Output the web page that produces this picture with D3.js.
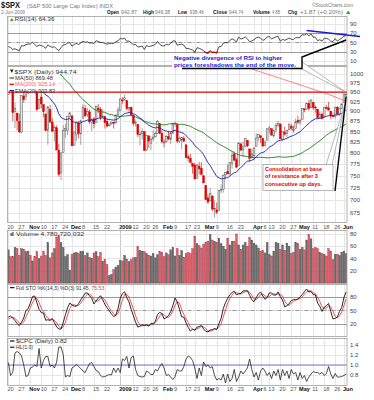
<!DOCTYPE html>
<html lang="en">
<head>
<meta charset="UTF-8">
<title>$SPX daily</title>
<script src="https://d3js.org/d3.v7.min.js"></script>
<style>
  body { margin: 0; background: #fff; }
  svg { display: block; font-family: "Liberation Sans", Arial, sans-serif; }
</style>
</head>
<body>
<svg width="374" height="400"></svg>
<script>
// trading days, Sep 2 2008 .. Jun 2 2009 (Sep/Oct 17 only used to warm up the indicators)
const dates = [
  "2008-09-02","2008-09-03","2008-09-04","2008-09-05","2008-09-08","2008-09-09","2008-09-10","2008-09-11","2008-09-12",
  "2008-09-15","2008-09-16","2008-09-17","2008-09-18","2008-09-19","2008-09-22","2008-09-23","2008-09-24","2008-09-25",
  "2008-09-26","2008-09-29","2008-09-30",
  "2008-10-01","2008-10-02","2008-10-03","2008-10-06","2008-10-07","2008-10-08","2008-10-09","2008-10-10","2008-10-13",
  "2008-10-14","2008-10-15","2008-10-16","2008-10-17",
  "2008-10-20","2008-10-21","2008-10-22","2008-10-23","2008-10-24","2008-10-27","2008-10-28","2008-10-29","2008-10-30","2008-10-31",
  "2008-11-03","2008-11-04","2008-11-05","2008-11-06","2008-11-07","2008-11-10","2008-11-11","2008-11-12","2008-11-13","2008-11-14",
  "2008-11-17","2008-11-18","2008-11-19","2008-11-20","2008-11-21","2008-11-24","2008-11-25","2008-11-26","2008-11-28",
  "2008-12-01","2008-12-02","2008-12-03","2008-12-04","2008-12-05","2008-12-08","2008-12-09","2008-12-10","2008-12-11","2008-12-12",
  "2008-12-15","2008-12-16","2008-12-17","2008-12-18","2008-12-19","2008-12-22","2008-12-23","2008-12-24","2008-12-26","2008-12-29",
  "2008-12-30","2008-12-31",
  "2009-01-02","2009-01-05","2009-01-06","2009-01-07","2009-01-08","2009-01-09","2009-01-12","2009-01-13","2009-01-14","2009-01-15",
  "2009-01-16","2009-01-20","2009-01-21","2009-01-22","2009-01-23","2009-01-26","2009-01-27","2009-01-28","2009-01-29","2009-01-30",
  "2009-02-02","2009-02-03","2009-02-04","2009-02-05","2009-02-06","2009-02-09","2009-02-10","2009-02-11","2009-02-12","2009-02-13",
  "2009-02-17","2009-02-18","2009-02-19","2009-02-20","2009-02-23","2009-02-24","2009-02-25","2009-02-26","2009-02-27",
  "2009-03-02","2009-03-03","2009-03-04","2009-03-05","2009-03-06","2009-03-09","2009-03-10","2009-03-11","2009-03-12","2009-03-13",
  "2009-03-16","2009-03-17","2009-03-18","2009-03-19","2009-03-20","2009-03-23","2009-03-24","2009-03-25","2009-03-26","2009-03-27",
  "2009-03-30","2009-03-31",
  "2009-04-01","2009-04-02","2009-04-03","2009-04-06","2009-04-07","2009-04-08","2009-04-09","2009-04-13","2009-04-14","2009-04-15",
  "2009-04-16","2009-04-17","2009-04-20","2009-04-21","2009-04-22","2009-04-23","2009-04-24","2009-04-27","2009-04-28","2009-04-29",
  "2009-04-30",
  "2009-05-01","2009-05-04","2009-05-05","2009-05-06","2009-05-07","2009-05-08","2009-05-11","2009-05-12","2009-05-13","2009-05-14",
  "2009-05-15","2009-05-18","2009-05-19","2009-05-20","2009-05-21","2009-05-22","2009-05-26","2009-05-27","2009-05-28","2009-05-29",
  "2009-06-01","2009-06-02"
];

const open = [
  1287.8,1276.6,1271.8,1233.2,1249.5,1267.0,1227.5,1229.0,1245.9,1250.9,1188.3,1210.3,1157.1,1213.1,1255.4,1207.6,1188.8,1187.9,
  1204.5,1209.1,1113.8,1164.2,1160.6,1115.2,1097.6,1057.6,988.9,988.4,902.3,912.8,1010.0,994.6,909.5,942.3,
  943.5,980.4,951.7,899.1,895.2,874.3,848.9,939.5,939.4,953.1,
  968.7,971.3,1001.8,952.4,907.4,936.8,917.2,893.4,853.1,904.4,873.2,852.3,859.0,805.9,755.8,801.2,853.4,852.9,886.9,
  888.6,817.9,843.6,869.8,844.4,882.7,906.5,892.2,898.4,871.8,881.1,871.5,908.2,905.0,887.0,887.2,874.3,863.9,869.5,872.4,870.6,890.6,
  903.0,929.2,931.2,927.5,905.7,909.9,890.4,869.8,867.3,842.0,844.5,849.6,806.8,839.7,822.2,832.5,837.3,845.7,868.9,845.7,
  823.1,825.7,837.8,831.8,846.1,868.2,866.9,827.4,829.9,834.0,818.6,791.1,787.9,775.9,773.2,744.7,770.6,765.8,749.9,
  729.6,704.4,698.6,708.3,684.0,680.8,679.3,719.6,720.9,752.0,758.8,753.9,776.0,797.9,784.6,772.3,820.6,806.8,814.1,828.7,809.1,790.9,
  793.6,814.5,835.1,839.8,834.1,816.8,829.3,855.7,856.8,839.4,854.5,865.2,868.3,831.3,847.3,844.6,853.9,862.8,854.5,856.9,876.6,
  872.7,879.2,906.1,904.0,919.6,909.0,923.0,910.5,905.4,884.2,892.8,886.1,909.7,908.6,900.4,888.7,887.0,910.0,893.0,907.0,
  923.3,942.87
];
const high = [
  1303.0,1280.6,1272.0,1244.9,1274.4,1268.7,1243.9,1249.9,1255.1,1250.9,1214.8,1210.3,1211.1,1265.1,1255.4,1214.0,1197.4,1220.0,
  1215.8,1209.1,1168.0,1167.0,1160.6,1153.8,1097.6,1072.9,1021.1,1005.3,936.4,1006.9,1044.3,994.6,947.7,984.6,
  985.4,985.4,951.7,922.8,896.3,893.8,940.5,969.9,963.2,984.4,
  975.5,1007.5,1001.8,952.4,931.5,951.2,917.2,893.4,913.0,916.9,882.3,865.9,864.6,820.5,801.2,865.6,868.9,887.7,896.3,
  888.6,850.5,873.1,875.6,879.4,918.6,916.3,908.3,904.6,883.2,884.6,914.7,918.9,911.0,905.5,887.4,880.4,869.8,873.7,873.7,891.1,910.3,
  934.7,936.6,943.9,927.5,910.0,911.9,890.4,877.0,867.3,851.6,858.1,849.6,841.7,839.7,838.6,852.5,850.5,877.9,868.9,851.7,
  830.8,842.6,851.9,850.6,870.8,875.0,868.1,838.2,835.5,839.4,818.6,796.2,797.6,778.7,777.9,775.5,780.1,779.4,751.3,
  729.6,711.7,724.1,708.3,699.1,695.3,719.6,731.9,752.6,758.3,774.5,778.1,803.0,803.2,788.9,823.4,823.7,826.3,833.0,828.7,809.1,810.5,
  813.6,845.6,842.5,839.8,834.1,828.4,856.9,864.3,856.8,852.9,870.4,875.6,868.3,850.1,861.8,852.9,871.8,868.8,864.5,882.1,888.7,
  880.5,907.9,907.7,920.3,929.6,930.2,923.0,915.6,905.4,898.4,897.0,910.0,916.4,924.6,900.4,896.7,911.8,913.8,909.5,920.0,
  947.8,949.4
];
const low = [
  1272.2,1265.6,1232.8,1217.2,1247.1,1224.5,1221.6,1211.5,1233.8,1192.7,1169.3,1155.9,1133.5,1213.1,1205.6,1187.8,1179.8,1187.9,
  1187.5,1106.4,1113.8,1140.8,1111.4,1098.1,1007.6,996.2,971.0,909.2,839.8,912.8,972.1,904.0,865.8,918.7,
  943.5,952.5,875.8,858.4,852.9,846.8,845.3,922.3,928.5,944.6,
  958.6,971.3,949.9,899.7,906.5,907.4,884.9,850.5,818.7,869.9,849.0,826.8,806.2,747.8,741.0,801.2,835.0,841.4,881.2,
  815.7,817.9,827.6,833.6,818.4,882.7,885.4,885.5,868.7,851.4,857.7,871.5,895.9,877.4,883.0,857.1,860.4,861.4,866.5,857.1,870.6,889.1,
  899.4,919.5,927.3,902.4,896.8,888.3,864.3,862.0,836.9,817.0,830.7,804.5,804.3,811.3,806.1,827.7,835.4,845.7,844.2,821.7,
  812.9,822.0,829.2,819.9,845.1,861.7,823.0,822.7,808.1,825.2,789.2,780.4,777.0,754.3,742.4,744.7,752.9,751.8,734.5,
  699.7,692.3,698.6,677.9,666.8,672.9,679.3,713.9,714.8,742.5,753.4,749.9,765.6,781.8,766.2,772.3,805.5,791.4,814.1,813.4,779.8,790.9,
  783.3,814.5,826.7,822.8,814.5,814.8,829.3,845.4,840.3,835.6,847.0,860.9,832.4,826.8,840.6,835.6,853.9,854.7,847.1,856.9,868.5,
  866.1,879.2,897.3,904.0,901.4,909.0,903.7,896.5,882.2,882.5,878.9,886.1,905.2,901.4,879.6,883.8,881.5,891.9,887.6,903.6,
  923.3,938.5
];
const close = [
  1277.58,1274.98,1236.83,1242.31,1267.79,1224.51,1232.04,1249.05,1251.70,1192.70,1213.60,1156.39,1206.51,1255.08,1207.09,1188.22,
  1185.87,1209.18,1213.27,1106.39,1166.36,1161.06,1114.28,1099.23,1056.89,996.23,984.94,909.92,899.22,1003.35,998.01,907.84,946.43,940.55,
  985.40,955.05,896.78,908.11,876.77,848.92,940.51,930.09,954.09,968.75,
  966.30,1005.75,952.77,904.88,930.99,919.21,898.95,852.30,911.29,873.29,850.75,859.12,806.58,752.44,800.03,851.81,857.39,887.68,896.24,
  816.21,848.81,870.74,845.22,876.07,909.70,888.67,899.24,873.59,879.73,868.57,913.18,904.42,885.28,887.88,871.63,863.16,868.15,872.80,
  869.42,890.64,903.25,
  931.80,927.45,934.70,906.65,909.73,890.35,870.26,871.79,842.62,843.74,850.12,805.22,840.24,827.50,831.95,836.57,845.71,874.09,845.14,825.88,
  825.44,838.51,832.23,845.85,868.60,869.89,827.16,833.74,835.19,826.84,789.17,788.42,778.94,770.05,743.33,773.14,764.90,752.83,735.09,
  700.82,696.33,712.87,682.55,683.38,676.53,719.60,721.36,750.74,756.55,753.89,778.12,794.35,784.04,768.54,822.92,806.12,813.88,832.86,
  815.94,787.53,797.87,
  811.08,834.38,842.50,835.48,815.55,825.16,856.56,858.73,841.50,852.06,865.30,869.60,832.39,850.08,843.55,851.92,866.23,857.51,855.16,
  873.64,872.81,
  877.52,907.24,903.80,919.53,907.39,929.23,909.24,908.35,883.92,893.07,882.88,909.71,908.13,903.47,888.33,887.00,910.33,893.06,906.83,919.14,
  942.87,944.74
];

// volume in 100 millions, Oct 20 2008 .. Jun 2 2009
const volume = [
  54,43,43,58,56,45,56,55,51,52,
  45,36,43,51,40,44,52,45,66,41,49,56,75,77,66,58,43,46,21,
  47,49,50,48,51,52,45,49,42,40,49,51,43,50,35,38,30,12,14,22,26,29,
  37,36,45,39,35,38,41,42,59,53,52,51,48,45,44,48,41,46,51,50,
  43,49,46,54,58,44,56,45,53,42,48,50,48,56,76,64,61,57,63,
  66,68,79,70,68,66,73,64,60,55,73,62,68,68,80,62,55,62,66,60,74,70,
  65,62,57,52,53,49,66,46,44,52,66,65,55,62,53,65,60,48,50,66,64,
  55,58,54,70,79,72,56,58,56,50,48,47,44,56,52,38,47,47,45,50,
  52,47.8
];

// CBOE put/call ratio, Oct 20 2008 .. Jun 2 2009
const cpc = [
  1.05,0.79,0.85,1.24,1.27,1.24,1.18,1.00,0.77,0.79,
  0.94,0.96,1.00,0.97,1.33,0.94,1.09,1.17,1.17,0.97,
  1.00,0.94,1.06,1.36,1.36,1.21,0.76,0.79,0.77,0.94,
  0.97,1.01,0.97,0.93,0.88,0.85,0.94,1.03,1.05,0.97,
  0.89,0.87,0.79,0.76,0.77,0.79,0.81,0.80,0.94,0.85,
  0.94,0.85,1.12,1.09,1.17,0.94,1.15,1.18,0.91,0.79,
  0.77,0.76,0.77,0.88,0.85,0.81,0.81,0.91,0.88,0.97,
  1.03,0.94,0.79,0.81,0.76,0.71,0.77,0.91,0.88,0.88,
  0.97,1.12,1.18,1.15,1.09,0.94,0.73,0.94,0.79,1.06,
  0.97,1.00,0.94,0.97,0.79,0.70,0.73,0.70,0.82,0.64,
  0.82,0.67,0.73,0.91,0.67,0.76,0.88,0.82,0.88,0.94,
  1.12,0.91,0.76,0.85,0.70,0.88,0.94,0.88,0.79,0.85,
  0.73,0.88,0.79,0.91,0.70,0.91,0.79,0.88,0.73,0.91,
  0.82,0.85,0.70,0.85,0.73,0.79,0.67,0.76,0.82,0.87,
  0.85,0.85,0.82,0.85,0.79,0.83,0.97,0.82,0.73,0.83,
  0.76,0.76,0.77,0.79,0.82
];

// 200-day MA, last 47 sessions (Mar 26 .. Jun 2), earlier values are above the chart
const ma200 = [
  1020.8,1018.7,1016.6,1014.5,
  1012.4,1010.3,1008.3,1006.2,1004.1,1002.1,1000.0,998.0,995.9,993.9,991.9,989.8,987.8,985.8,983.8,981.8,979.8,977.8,975.8,973.8,971.8,
  969.8,967.8,965.8,963.8,961.8,959.9,957.9,955.9,953.9,951.9,949.9,947.9,945.9,943.8,941.7,939.6,937.4,935.2,932.7,930.2,
  927.7,925.14
];

const tickDates = ["2008-10-20","2008-10-27","2008-11-03","2008-11-10","2008-11-17","2008-11-24","2008-12-01","2008-12-08",
  "2008-12-15","2008-12-22","2009-01-02","2009-01-12","2009-01-20","2009-01-26","2009-02-02","2009-02-09","2009-02-17",
  "2009-02-23","2009-03-02","2009-03-09","2009-03-16","2009-03-23","2009-04-01","2009-04-06","2009-04-13","2009-04-20",
  "2009-04-27","2009-05-01","2009-05-11","2009-05-18","2009-05-26","2009-06-01"];
const tickLabels = ["20","27","Nov","10","17","24","Dec","8","15","22","2009","12","20","26","Feb","9","17","23","Mar","9",
  "16","23","Apr","6","13","20","27","May","11","18","26","Jun"];

const priceTicks = [675,700,725,750,775,800,825,850,875,900,925,950,975,1000];
const rsiTicks = [10,30,50,70,90];
const volTicks = [20,40,60,80];
const stoTicks = [20,50,80];
const cpcTicks = [0.8,1.0,1.2,1.4];
const resistance = 950;

// ---------- indicators ----------
const n = dates.length;
const first = dates.indexOf("2008-10-20");
const shown = d3.range(first, n);
const last = n - 1;

const ma50 = close.map((c, i) => i < 49 ? null : d3.mean(close.slice(i - 49, i + 1)));
const ema20 = [];
close.forEach((c, i) => ema20.push(i === 0 ? c : ema20[i - 1] + (c - ema20[i - 1]) * 2 / 21));

const rsi = new Array(n).fill(null);
let ag = 0, al = 0;
for (let i = 1; i < n; i++) {
  const ch = close[i] - close[i - 1], g = Math.max(ch, 0), l = Math.max(-ch, 0);
  if (i <= 14) { ag += g / 14; al += l / 14; if (i === 14) rsi[i] = 100 - 100 / (1 + ag / al); }
  else { ag = (ag * 13 + g) / 14; al = (al * 13 + l) / 14; rsi[i] = 100 - 100 / (1 + ag / al); }
}
const fastK = close.map((c, i) => {
  if (i < 13) return null;
  const hh = d3.max(high.slice(i - 13, i + 1)), ll = d3.min(low.slice(i - 13, i + 1));
  return 100 * (c - ll) / (hh - ll);
});
const sma3 = (a, i) => (i < 2 || a[i] == null || a[i - 1] == null || a[i - 2] == null) ? null : (a[i] + a[i - 1] + a[i - 2]) / 3;
const fullK = fastK.map((v, i) => sma3(fastK, i));
const fullD = fullK.map((v, i) => sma3(fullK, i));

// ---------- layout ----------
const svg = d3.select("svg");
const L = 7.5, R = 347;
const x = d3.scaleBand().domain(shown).range([L, R]).paddingInner(0.2);
const bw = x.bandwidth();
const cx = i => x(i) + bw / 2;

const P = {
  rsi:   { top: 16,  bottom: 65 },
  price: { top: 66,  bottom: 222 },
  vol:   { top: 230, bottom: 283 },
  sto:   { top: 284, bottom: 336 },
  cpc:   { top: 338, bottom: 385 }
};
const yRsi = d3.scaleLinear().domain([0, 100]).range([65.3, 19.4]);
const yPx = d3.scaleLog().domain([658, 1023]).range([P.price.bottom, P.price.top]);
const yVol = d3.scaleLinear().domain([0, 88]).range([P.vol.bottom, P.vol.bottom - 88 * 0.6136]);
const ySto = d3.scaleLinear().domain([0, 100]).range([332.6, 288]);
const yCpc = d3.scaleLinear().domain([0.6, 1.4]).range([385, 345]);

const tickIdx = tickDates.map(d => dates.indexOf(d));
const boldLbl = l => isNaN(+l) || l === "2009";

// small text helper; w squeezes the text to the width measured on the reference
function txt(sel, xx, yy, s, o) {
  o = o || {};
  const t = sel.append("text").attr("x", xx).attr("y", yy).attr("font-size", o.size || 6)
    .attr("fill", o.fill || "#333").text(s);
  if (o.bold) t.attr("font-weight", "bold");
  if (o.w) t.attr("textLength", o.w).attr("lengthAdjust", "spacingAndGlyphs");
  return t;
}

function panel(key, yScale, ticks, fmt) {
  const p = P[key];
  const g = svg.append("g");
  g.append("rect").attr("x", L).attr("y", p.top).attr("width", R - L).attr("height", p.bottom - p.top).attr("fill", "#fff");
  g.selectAll("line.v").data(tickIdx).join("line")
    .attr("x1", i => Math.round(cx(i)) + 0.5).attr("x2", i => Math.round(cx(i)) + 0.5)
    .attr("y1", p.top).attr("y2", p.bottom)
    .attr("stroke", (i, k) => tickLabels[k] === "2009" ? "#c8c8c8" : "#e6e6e6");
  g.selectAll("line.h").data(ticks).join("line")
    .attr("x1", L).attr("x2", R)
    .attr("y1", v => Math.round(yScale(v)) + 0.5).attr("y2", v => Math.round(yScale(v)) + 0.5)
    .attr("stroke", "#e6e6e6");
  g.selectAll("text").data(ticks).join("text")
    .attr("x", 350).attr("y", v => yScale(v) + 2.2)
    .attr("font-size", 6).attr("fill", "#444")
    .text(fmt || (v => v));
  svg.append("clipPath").attr("id", "clip-" + key).append("rect")
    .attr("x", L).attr("y", p.top).attr("width", R - L).attr("height", p.bottom - p.top);
  return svg.append("g").attr("clip-path", `url(#clip-${key})`);
}
function border(key) {
  const p = P[key];
  svg.append("rect").attr("x", L).attr("y", p.top + 0.5).attr("width", R - L).attr("height", p.bottom - p.top)
    .attr("fill", "none").attr("stroke", "#a0a0a0").attr("stroke-width", 0.8);
}
function refLine(g, y, dash) {
  g.append("line").attr("x1", L).attr("x2", R).attr("y1", Math.round(y) + 0.5).attr("y2", Math.round(y) + 0.5)
    .attr("stroke", "#999").attr("stroke-dasharray", dash || null);
}
function lineOf(g, series, yScale, color, w) {
  const ln = d3.line().defined(i => series[i] != null).x(cx).y(i => yScale(series[i]));
  return g.append("path").attr("d", ln(shown)).attr("fill", "none").attr("stroke", color).attr("stroke-width", w || 0.9);
}
function legendMark(x0, y, color) {
  svg.append("line").attr("x1", x0).attr("x2", x0 + 4.5).attr("y1", y - 2).attr("y2", y - 2)
    .attr("stroke", color).attr("stroke-width", 1.3);
}
function xLabels(y) {
  let prevEnd = -Infinity;
  tickIdx.forEach((i, k) => {
    const lb = tickLabels[k], b = boldLbl(lb);
    const t = txt(svg, 0, y, lb, { size: 5.6, bold: b, fill: b ? "#111" : "#555" });
    const xx = Math.max(cx(i) - 1, prevEnd + 0.8);
    t.attr("x", xx);
    prevEnd = xx + t.node().getComputedTextLength();
  });
}

// ---------- header ----------
txt(svg, 1, 8.3, "$SPX", { size: 8.5, bold: true, fill: "#111", w: 19 });
txt(svg, 27, 8, "(S&P 500 Large Cap Index) INDX", { size: 6, fill: "#777", w: 86 });
txt(svg, 312, 6.8, "©StockCharts.com", { size: 5.8, fill: "#777", w: 41 });
txt(svg, 1, 14.3, "2-Jun-2009", { size: 5.6, fill: "#777", w: 24 });
const hdr = [["Open", 107, 12, 1], ["942.87", 121, 16, 0], ["High", 143, 11, 1], ["949.38", 155, 15, 0],
  ["Low", 178, 9, 1], ["938.46", 189.5, 14.5, 0], ["Close", 213, 14, 1], ["944.74", 229, 14.5, 0],
  ["Volume", 253, 17, 1], ["4.8B", 272, 8, 0], ["Chg", 288, 9, 1], ["+1.87 (+0.20%)", 300, 43, 0]];
hdr.forEach(([s, xx, w, b]) => txt(svg, xx, 14.3, s, { size: 5.8, bold: b, fill: b ? "#111" : "#777", w: w }));
svg.append("path").attr("d", "M346,14 L348.2,10.5 L350.4,14 Z").attr("fill", "#2a2");

// ---------- RSI ----------
const gR = panel("rsi", yRsi, rsiTicks);
refLine(gR, yRsi(70)); refLine(gR, yRsi(30)); refLine(gR, yRsi(50), "4,2,1,2");
lineOf(gR, rsi, yRsi, "#222", 0.8);
svg.append("clipPath").attr("id", "clip-rsi-low").append("rect")
  .attr("x", L).attr("y", yRsi(30)).attr("width", R - L).attr("height", 20);
svg.append("g").attr("clip-path", "url(#clip-rsi-low)").append("path")
  .attr("d", d3.line().x(cx).y(i => yRsi(rsi[i]))(shown)).attr("fill", "none").attr("stroke", "#c00").attr("stroke-width", 1.4);
border("rsi");
svg.append("path").attr("d", "M10,21 L11.8,17.8 L13.6,21 Z").attr("fill", "#3a3");
txt(svg, 14.5, 21.2, "RSI(14) 64.36", { size: 6, w: 40 });

// ---------- price ----------
const gP = panel("price", yPx, priceTicks);
shown.forEach(i => {
  const down = close[i] < close[i - 1];
  const col = down ? "#e00000" : "#555";
  gP.append("line").attr("x1", cx(i)).attr("x2", cx(i)).attr("y1", yPx(high[i])).attr("y2", yPx(low[i]))
    .attr("stroke", down ? "#b00" : "#666").attr("stroke-width", 0.6);
  const y0 = yPx(Math.max(open[i], close[i])), y1 = yPx(Math.min(open[i], close[i]));
  gP.append("rect").attr("x", x(i)).attr("y", y0).attr("width", bw).attr("height", Math.max(0.8, y1 - y0))
    .attr("fill", close[i] < open[i] ? col : "#e4e4e4").attr("stroke", col).attr("stroke-width", 0.5);
});
lineOf(gP, ma50, yPx, "#1f7a1f", 0.9);
const ma200Full = dates.map((d, i) => i >= n - ma200.length ? ma200[i - (n - ma200.length)] : null);
lineOf(gP, ma200Full, yPx, "#ff6060", 0.8);
lineOf(gP, ema20, yPx, "#1d1dae", 0.9);
gP.append("line").attr("x1", L).attr("x2", R).attr("y1", yPx(resistance)).attr("y2", yPx(resistance))
  .attr("stroke", "#e00").attr("stroke-width", 1.3);
// legend box over the top-left corner
gP.append("rect").attr("x", L + 0.5).attr("y", P.price.top).attr("width", 70).attr("height", 8).attr("fill", "#fff");
gP.append("rect").attr("x", L + 0.5).attr("y", P.price.top + 8).attr("width", 50).attr("height", yPx(resistance) - P.price.top - 9).attr("fill", "#fff");
border("price");
svg.append("path").attr("d", "M10,69.5 L13.6,69.5 L11.8,73 Z").attr("fill", "#222");
txt(svg, 14.5, 73.8, "$SPX (Daily) 944.74", { size: 6, w: 62 });
legendMark(9.5, 80, "#1f7a1f"); txt(svg, 15, 80, "MA(50) 869.48", { size: 6, w: 38 });
legendMark(9.5, 86.3, "#e00"); txt(svg, 15, 86.3, "MA(200) 925.14", { size: 6, fill: "#f06060", w: 40 });
legendMark(9.5, 92.6, "#1d1dae"); txt(svg, 15, 92.6, "EMA(20) 903.83", { size: 6, w: 40 });
xLabels(229.3);

// ---------- volume ----------
const gV = panel("vol", yVol, volTicks);
gV.selectAll("rect.bar").data(shown).join("rect")
  .attr("x", i => x(i)).attr("width", bw)
  .attr("y", (i, k) => yVol(volume[k])).attr("height", (i, k) => yVol(0) - yVol(volume[k]))
  .attr("fill", i => close[i] < close[i - 1] ? "#d9646c" : "#6e6e6e")
  .attr("stroke", i => close[i] < close[i - 1] ? "#b03040" : "#505050").attr("stroke-width", 0.4);
border("vol");
svg.append("rect").attr("x", 10.5).attr("y", 233).attr("width", 1.2).attr("height", 3).attr("fill", "#444");
svg.append("rect").attr("x", 12.3).attr("y", 232).attr("width", 1.2).attr("height", 4).attr("fill", "#444");
txt(svg, 16, 236, "Volume 4,780,720,032", { size: 6, w: 68 });

// ---------- stochastics ----------
const gS = panel("sto", ySto, stoTicks);
refLine(gS, ySto(80)); refLine(gS, ySto(20)); refLine(gS, ySto(50), "4,2,1,2");
lineOf(gS, fullD, ySto, "#f04040", 0.9);
lineOf(gS, fullK, ySto, "#111", 0.9);
border("sto");
legendMark(10, 289.6, "#222");
const stoLbl = svg.append("text").attr("x", 16).attr("y", 289.6).attr("font-size", 5.1).attr("fill", "#333");
stoLbl.append("tspan").text("Full STO %K(14,3) %D(3) 91.45, ");
stoLbl.append("tspan").attr("fill", "#f04040").text("75.53");

// ---------- put/call ----------
const gC = panel("cpc", yCpc, cpcTicks, v => v.toFixed(1));
gC.append("line").attr("x1", L).attr("x2", R).attr("y1", yCpc(1.0)).attr("y2", yCpc(1.0)).attr("stroke", "#7878c8").attr("stroke-width", 1);
gC.append("path").attr("d", d3.line().x(cx).y((i, k) => yCpc(cpc[k]))(shown))
  .attr("fill", "none").attr("stroke", "#222").attr("stroke-width", 0.8);
border("cpc");
legendMark(10, 343, "#222"); txt(svg, 16, 343, "$CPC (Daily) 0.82", { size: 6, w: 51 });
legendMark(10, 349.3, "#2a2a8a"); txt(svg, 16, 349.3, "HL(1.0)", { size: 6, w: 17 });
xLabels(390.5);

// ---------- annotations ----------
const ann = svg.append("g");
// divergence line on RSI highs
ann.append("line").attr("x1", cx(dates.indexOf("2009-05-06"))).attr("y1", 30.5).attr("x2", 360).attr("y2", 36.5)
  .attr("stroke", "#1a1ad0").attr("stroke-width", 1.5);
// upper callout
ann.append("polygon").attr("points", `298,67 ${cx(last)},${yPx(high[last])} 302,62`)
  .attr("fill", "#fff").attr("stroke", "#999").attr("stroke-width", 0.7);
ann.append("rect").attr("x", 172).attr("y", 54).attr("width", 130).attr("height", 14).attr("fill", "#fff");
ann.append("polyline").attr("points", `${cx(last)},40 302,57 302,68.5 182,68.5`)
  .attr("fill", "none").attr("stroke", "#000").attr("stroke-width", 1.4);
txt(ann, 174, 60.3, "Negative divergence of RSI to higher", { size: 6, bold: true, fill: "#1a1ad0", w: 108 });
txt(ann, 174, 66.8, "prices foreshadows the end of the move.", { size: 6, bold: true, fill: "#1a1ad0", w: 122 });
// lower callout
ann.append("polygon").attr("points", `326,165 ${cx(last) - 1},104 332,165`)
  .attr("fill", "#fff").attr("stroke", "#999").attr("stroke-width", 0.7);
ann.append("line").attr("x1", 335).attr("y1", 191).attr("x2", cx(last)).attr("y2", yPx(low[last]))
  .attr("stroke", "#000").attr("stroke-width", 1.4);
ann.append("rect").attr("x", 263).attr("y", 164.5).attr("width", 70).attr("height", 26)
  .attr("fill", "#fff").attr("stroke", "#999").attr("stroke-width", 0.7);
[["Consolidation at base", 170.5, 57], ["of resistance after 3", 178, 53], ["consecutive up days.", 185.5, 57]].forEach(([s, yy, w]) =>
  txt(ann, 265, yy, s, { size: 6, bold: true, fill: "#e00000", w: w }));
</script>
</body>
</html>
